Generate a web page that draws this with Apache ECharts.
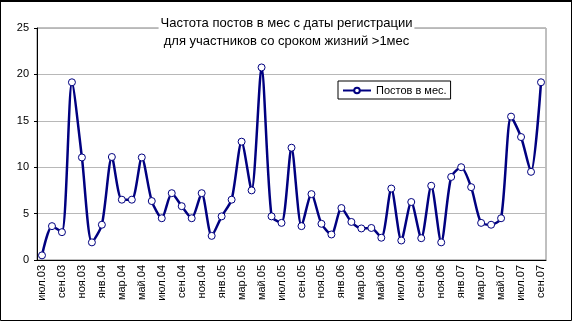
<!DOCTYPE html>
<html>
<head>
<meta charset="utf-8">
<script src="https://cdn.jsdelivr.net/npm/echarts@6/dist/echarts.min.js"></script>
<style>
  html, body { margin: 0; padding: 0; background: #fff; }
  #chart { width: 573px; height: 322px; }
</style>
</head>
<body>
<div id="chart"></div>
<script>
// Monthly labels, July 2003 – September 2007
const months = ['янв', 'фев', 'мар', 'апр', 'май', 'июн', 'июл', 'авг', 'сен', 'окт', 'ноя', 'дек'];
const categories = [];
for (let y = 2003, m = 6; y < 2007 || (y === 2007 && m <= 8); m++) {
  if (m === 12) { m = 0; y++; }
  categories.push(months[m] + '.' + String(y).slice(2));
}

// Posts per month
const postsPerMonth = [
  0.5, 3.65, 3.0, 19.15, 11.05, 1.9, 3.8, 11.1, 6.5, 6.5,
  11.05, 6.35, 4.5, 7.2, 5.8, 4.5, 7.2, 2.6, 4.7, 6.5,
  12.75, 7.5, 20.75, 4.7, 4.0, 12.1, 3.65, 7.1, 3.9, 2.75,
  5.6, 4.1, 3.4, 3.45, 2.4, 7.7, 2.1, 6.25, 2.35, 8.0,
  1.9, 8.95, 10.0, 7.85, 4.0, 3.8, 4.5, 15.45, 13.25, 9.5,
  19.15
];

const yTicks = [0, 5, 10, 15, 20, 25];
const seriesName = 'Постов в мес.';
const titleLines = ['Частота постов в мес с даты регистрации', 'для участников со сроком жизний >1мес'];

const navy = '#000080';
const font = 'Liberation Sans, Arial, sans-serif';

const chart = echarts.init(document.getElementById('chart'), null, { renderer: 'canvas' });
chart.setOption({
  animation: false,
  backgroundColor: '#fff',
  textStyle: { fontFamily: font },
  title: {
    text: titleLines.join('\n'),
    left: 'center',
    top: 13,
    padding: [1, 2],
    backgroundColor: '#fff',
    textStyle: { fontSize: 13, fontWeight: 'normal', color: '#000', lineHeight: 18, fontFamily: font }
  },
  legend: {
    data: [{ name: seriesName }],
    left: 338,
    top: 81,
    orient: 'horizontal',
    itemWidth: 28,
    itemHeight: 7,
    padding: [4, 4, 3, 4],
    borderColor: '#000',
    borderWidth: 1,
    backgroundColor: '#fff',
    textStyle: { fontSize: 11, color: '#000', fontFamily: font }
  },
  grid: { left: 37, right: 27, top: 28, bottom: 62, show: true, borderColor: '#808080', borderWidth: 1 },
  xAxis: {
    type: 'category',
    data: categories,
    boundaryGap: true,
    axisLine: { lineStyle: { color: '#000', width: 1 } },
    axisTick: { interval: 1, length: 4, lineStyle: { color: '#000' } },
    axisLabel: { interval: 1, rotate: 90, fontSize: 11, color: '#000', margin: 5, fontFamily: font }
  },
  yAxis: {
    type: 'value',
    min: yTicks[0],
    max: yTicks[yTicks.length - 1],
    interval: 5,
    axisLine: { show: true, lineStyle: { color: '#000', width: 1 } },
    axisTick: { show: true, length: 3, lineStyle: { color: '#000' } },
    axisLabel: { fontSize: 11, color: '#000', margin: 8, fontFamily: font },
    splitLine: { lineStyle: { color: '#b8b8b8', width: 1 } }
  },
  series: [{
    name: seriesName,
    type: 'line',
    data: postsPerMonth,
    smooth: 0.25,
    showAllSymbol: true,
    symbol: 'circle',
    symbolSize: 7,
    lineStyle: { color: navy, width: 2.5 },
    itemStyle: { color: '#fff', borderColor: navy, borderWidth: 1 }
  }],
  graphic: [
    { type: 'rect', shape: { x: 0.5, y: 0.5, width: 571, height: 320 }, style: { fill: null, stroke: '#000', lineWidth: 1 }, silent: true },
    { type: 'line', shape: { x1: 0, y1: 1, x2: 572, y2: 1 }, style: { stroke: '#000', lineWidth: 2 }, silent: true }
  ]
});
</script>
</body>
</html>
